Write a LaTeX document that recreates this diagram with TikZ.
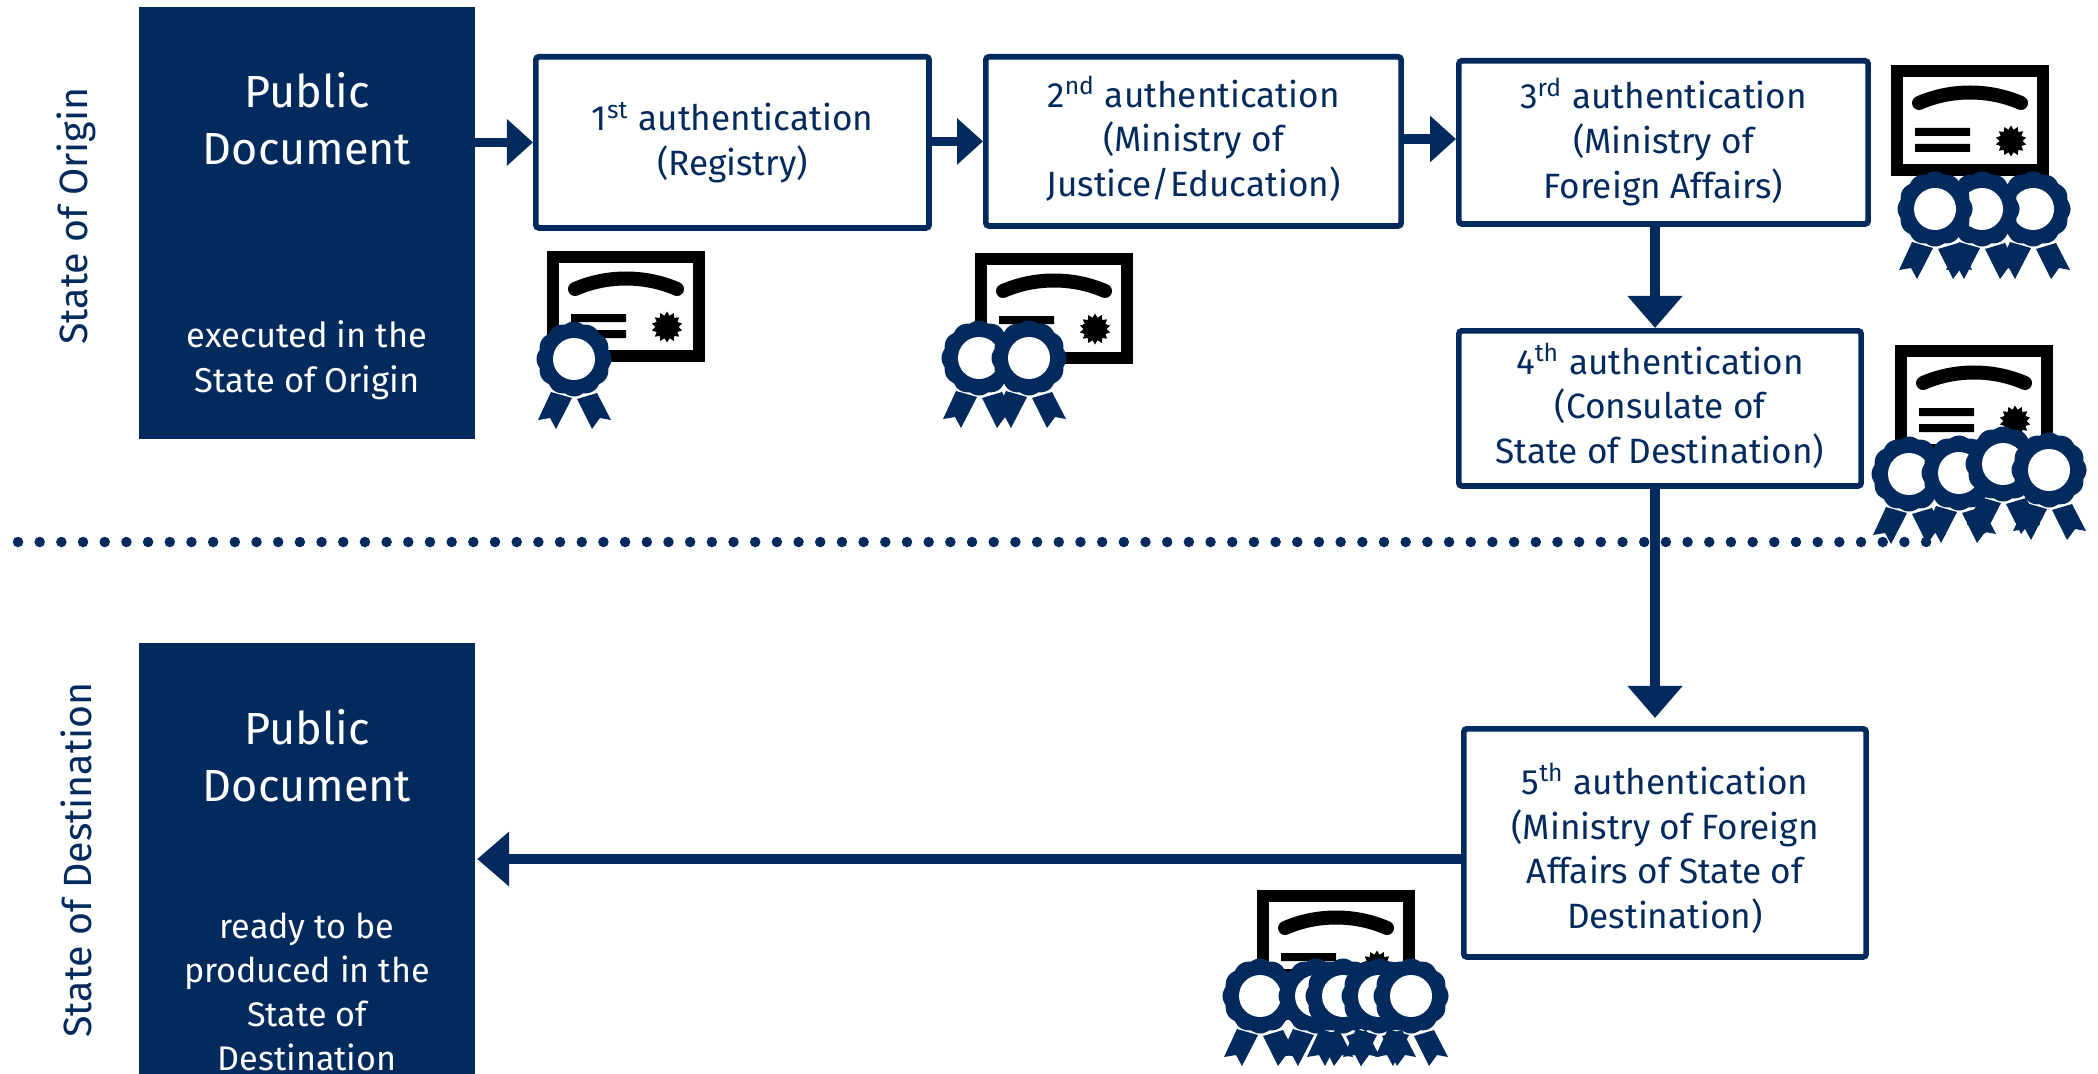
\documentclass[tikz,border=0pt]{standalone}
\usepackage{fontspec}
\setmainfont{Fira Sans}
\usetikzlibrary{arrows.meta}

\definecolor{navy}{HTML}{032A5C}

\newcommand{\deepline}[1]{\rule[-#1]{0pt}{#1}}
\newcommand{\tallline}[1]{\rule{0pt}{#1}}

\tikzset{
	authbox/.style={draw=navy, line width=0.57mm, fill=white, rounded corners=0.3mm, text=navy, align=center, inner sep=0pt, anchor=north west, font=\fontsize{10}{12.7}\selectfont},
	docbox/.style={fill=navy, inner sep=0pt, outer sep=0pt, anchor=north west, minimum width=33.6mm},
	doctitle/.style={text=white, align=center, font=\fontsize{12.8}{16.3}\selectfont},
	docnote/.style={text=white, align=center, font=\fontsize{9.8}{12.8}\selectfont},
	sidelabel/.style={text=navy, rotate=90, font=\fontsize{11.2}{15}\selectfont},
	flow/.style={draw=navy, line width=0.93mm, -{Triangle[length=2.6mm, width=4.5mm]}},
	bigflow/.style={draw=navy, line width=1.05mm, -{Triangle[length=3.2mm, width=5.3mm]}},
	certframe/.pic={
		\draw[black, line width=1.2mm]	(6, 6) rectangle (152, 105);
		\draw[black, line width=1.4mm, line cap=round]	(28, 38) .. controls (60, 24) and (98, 24) .. (130, 38);
		\fill[black]	(24, 63) rectangle (79, 71)
						(24, 79) rectangle (79, 87);
		\fill[black, shift={(120, 76)}]	plot[domain=0:360, samples=29] (\x:{13.5-2*cos(14*\x)}) -- cycle;
	},
	rosette/.pic={
		\fill[navy]	(-23, 33) to (-2, 39) to (-18, 70) to (-24, 59) to (-36, 61) -- cycle;
		\fill[navy]	(3, 40) to (23, 34) to (37, 61) to (26, 59) to (18, 70) -- cycle;
		\fill[navy]	plot[domain=0:360, samples=145, smooth] (\x:{35.5+2*abs(cos(6*\x))}) -- cycle;
		\fill[white]	(0, 0) circle (21);
	}
}

\begin{document}
\begin{tikzpicture}[x=0.01cm, y=-0.01cm]
	\useasboundingbox (0, 0) rectangle (2098, 1073);

	\coordinate (dotstart) at (18, 542);
	\coordinate (dotend) at (1930, 542);
	\draw[navy, line width=1.05mm, line cap=round, dash pattern=on 0pt off 2.167mm]	(dotstart) to (dotend);

	\node[docbox, minimum height=43.2mm] (origindoc) at (139, 7) {};
	\node[docbox, minimum height=43.2mm] (destdoc) at (139, 643) {};

	\node[doctitle] (origintitle) at (307, 119) {Public\\Document};
	\node[docnote] (originnote) at (307, 360) {executed in the\\State of Origin};
	\node[doctitle] (desttitle) at (307, 756) {Public\\Document};
	\node[docnote, font=\fontsize{9.7}{12.5}\selectfont] (destnote) at (307, 992) {ready to be\\produced in the\\State of\\Destination};

	\node[sidelabel] (originlabel) at (76, 216) {State of Origin};
	\node[sidelabel] (destlabel) at (76, 860) {State of Destination};

	\node[authbox, minimum width=39.3mm, minimum height=17.1mm] (first) at (533, 54) {1\textsuperscript{st} authentication\\(Registry)};
	\node[authbox, minimum width=41.5mm, minimum height=16.9mm] (second) at (983, 54) {2\textsuperscript{nd} authentication\\(Ministry of\\Justice/Education)\deepline{2.9pt}};
	\node[authbox, minimum width=40.9mm, minimum height=16.3mm] (third) at (1456, 58) {3\textsuperscript{rd} authentication\\(Ministry of\\Foreign Affairs)\deepline{2.6pt}};
	\node[authbox, minimum width=40.2mm, minimum height=15.5mm] (fourth) at (1456, 328) {4\textsuperscript{th} authentication\\(Consulate of\\State of Destination)\deepline{2.9pt}};
	\node[authbox, minimum width=40.2mm, minimum height=22.8mm] (fifth) at (1461, 726) {\tallline{12pt}5\textsuperscript{th} authentication\\(Ministry of Foreign\\Affairs of State of\\Destination)};

	\draw[flow]	(origindoc.east |- first.west) to (first.west);
	\draw[flow]	(first.east |- second.west) to (second.west);
	\draw[flow]	(second.east |- 0, 139) to (third.west |- 0, 139);
	\draw[bigflow]	(third.south -| 1655, 0) to (fourth.north -| 1655, 0);
	\draw[bigflow, shorten >=0.8mm]	(fourth.south -| 1655, 0) to (fifth.north -| 1655, 0);
	\draw[bigflow, shorten >=0.2mm]	(fifth.west |- 0, 859) to (destdoc.east |- 0, 859);

	\pic at (547, 251) {certframe};
	\pic at (574, 359) {rosette};

	\pic at (975, 253) {certframe};
	\pic at (979, 358) {rosette};
	\pic at (1029, 358) {rosette};

	\pic at (1891, 65) {certframe};
	\pic at (2033, 209) {rosette};
	\pic at (1982, 209) {rosette};
	\pic at (1935, 209) {rosette};

	\pic at (1895, 345) {certframe};
	\pic at (1909, 474) {rosette};
	\pic at (1959, 473) {rosette};
	\pic at (2003, 464) {rosette};
	\pic at (2049, 470) {rosette};

	\pic at (1257, 890) {certframe};
	\pic at (1260, 996) {rosette};
	\pic at (1316, 996) {rosette};
	\pic at (1343, 996) {rosette};
	\pic at (1379, 996) {rosette};
	\pic at (1411, 996) {rosette};
\end{tikzpicture}
\end{document}
